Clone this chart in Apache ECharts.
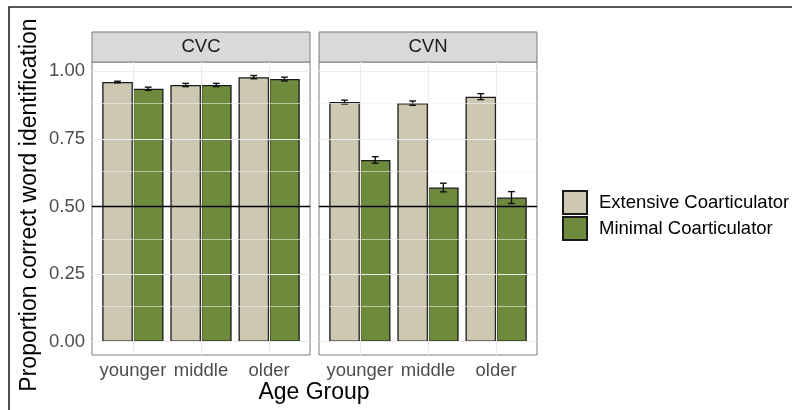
<!DOCTYPE html>
<html>
<head>
<meta charset="utf-8">
<script src="https://cdn.jsdelivr.net/npm/echarts@6/dist/echarts.min.js"></script>
<style>
  html, body { margin: 0; padding: 0; background: #fff; }
  #chart { width: 792px; height: 410px; }
</style>
</head>
<body>
<div id="chart"></div>
<script>
// data
const ageGroups = ['younger', 'middle', 'older'];
const panels = ['CVC', 'CVN'];
const cvcExtensive = [0.960, 0.949, 0.978];
const cvcExtensiveSE = [0.003, 0.006, 0.006];
const cvcMinimal = [0.935, 0.949, 0.971];
const cvcMinimalSE = [0.006, 0.006, 0.007];
const cvnExtensive = [0.886, 0.882, 0.906];
const cvnExtensiveSE = [0.007, 0.008, 0.011];
const cvnMinimal = [0.672, 0.570, 0.533];
const cvnMinimalSE = [0.012, 0.016, 0.022];
const yTicks = [0, 0.25, 0.5, 0.75, 1];
const yMinor = [0.125, 0.375, 0.625, 0.875];

const FONT = '"Liberation Sans", Arial, sans-serif';
const extColor = '#CDC8B1';
const minColor = '#6E8B3D';
const DODGE = 0.225;

const chart = echarts.init(document.getElementById('chart'), null, { renderer: 'canvas' });

// panel geometry
const panelTop = 62, panelH = 293, panelW = 218;
const panelLeft = [92, 319];

function barSeries(name, vals, off, grid, color) {
  return {
    name: name,
    type: 'bar',
    xAxisIndex: grid, yAxisIndex: grid,
    barWidth: 30.6,
    barGap: '-100%',
    itemStyle: { color: color, borderColor: '#1a1a1a', borderWidth: 1.3 },
    data: vals.map((v, i) => [i + off, v]),
    z: 2
  };
}

function errSeries(vals, se, off, grid) {
  return {
    name: 'err' + grid + off,
    type: 'custom',
    xAxisIndex: grid, yAxisIndex: grid,
    z: 4,
    data: vals.map((v, i) => [i + off, v - se[i], v + se[i]]),
    renderItem: function (params, api) {
      const x = api.value(0);
      const lo = api.coord([x, api.value(1)]);
      const hi = api.coord([x, api.value(2)]);
      const l = api.coord([x - 0.05, 0])[0];
      const r = api.coord([x + 0.05, 0])[0];
      const st = { stroke: '#111', lineWidth: 1.4 };
      return {
        type: 'group',
        children: [
          { type: 'line', shape: { x1: lo[0], y1: lo[1], x2: hi[0], y2: hi[1] }, style: st },
          { type: 'line', shape: { x1: l, y1: lo[1], x2: r, y2: lo[1] }, style: st },
          { type: 'line', shape: { x1: l, y1: hi[1], x2: r, y2: hi[1] }, style: st }
        ]
      };
    }
  };
}

function gridSeries(grid) {
  const d = [];
  yTicks.forEach(v => d.push({ yAxis: v }));
  yMinor.forEach(v => d.push({ yAxis: v, lineStyle: { width: 0.6, color: '#f0f0f0' } }));
  ageGroups.forEach((c, i) => d.push({ xAxis: i }));
  return {
    name: 'grid' + grid,
    type: 'line',
    xAxisIndex: grid, yAxisIndex: grid,
    data: [],
    z: 1,
    markLine: {
      silent: true, symbol: 'none', label: { show: false },
      lineStyle: { color: '#ebebeb', width: 1.1, type: 'solid' },
      data: d
    }
  };
}

function refSeries(grid) {
  return {
    name: 'ref' + grid,
    type: 'line',
    xAxisIndex: grid, yAxisIndex: grid,
    data: [],
    z: 5,
    markLine: {
      silent: true, symbol: 'none', label: { show: false },
      lineStyle: { color: '#000', width: 1.3, type: 'solid' },
      data: [{ yAxis: 0.5 }]
    }
  };
}

const xAxes = panelLeft.map((l, g) => ({
  type: 'value', gridIndex: g,
  min: -0.6, max: 2.6,
  axisLine: { show: false },
  splitLine: { show: false },
  axisTick: { show: true, length: 4, customValues: [0, 1, 2], lineStyle: { color: '#333', width: 1 } },
  axisLabel: {
    customValues: [0, 1, 2], margin: 6,
    formatter: v => ageGroups[Math.round(v)] || '',
    fontFamily: FONT, fontSize: 18.5, color: '#4d4d4d'
  }
}));

const yAxes = panelLeft.map((l, g) => ({
  type: 'value', gridIndex: g,
  min: -0.049, max: 1.034,
  axisLine: { show: false },
  splitLine: { show: false },
  axisTick: { show: g === 0, length: 4, customValues: yTicks, lineStyle: { color: '#333', width: 1 } },
  axisLabel: {
    show: g === 0, customValues: yTicks, margin: 7,
    formatter: v => v.toFixed(2),
    fontFamily: FONT, fontSize: 18.5, color: '#4d4d4d'
  }
}));

const graphics = [
  { type: 'rect', shape: { x: 9, y: 7, width: 800, height: 420 }, style: { fill: 'none', stroke: '#222', lineWidth: 1.6 }, z: 100 },
  {
    type: 'text', x: 30, y: 205, rotation: Math.PI / 2,
    style: { text: 'Proportion correct word identification', fontFamily: FONT, fontSize: 23, fill: '#000', align: 'center', verticalAlign: 'middle' }
  },
  {
    type: 'text', x: 314, y: 393,
    style: { text: 'Age Group', fontFamily: FONT, fontSize: 23, fill: '#000', align: 'center', verticalAlign: 'middle' }
  }
];
panelLeft.forEach((l, g) => {
  graphics.push({
    type: 'rect', shape: { x: l, y: 32, width: panelW, height: 30 },
    style: { fill: '#d9d9d9', stroke: '#7a7a7a', lineWidth: 1 }
  });
  graphics.push({
    type: 'text', x: l + panelW / 2, y: 47,
    style: { text: panels[g], fontFamily: FONT, fontSize: 18.5, fill: '#1a1a1a', align: 'center', verticalAlign: 'middle' }
  });
});

const option = {
  animation: false,
  backgroundColor: '#fff',
  grid: panelLeft.map(l => ({
    left: l, top: panelTop, width: panelW, height: panelH,
    show: true, borderColor: '#7a7a7a', borderWidth: 1, backgroundColor: 'transparent'
  })),
  xAxis: xAxes,
  yAxis: yAxes,
  legend: {
    orient: 'vertical', left: 557, top: 185,
    itemWidth: 24, itemHeight: 23, itemGap: 1,
    icon: 'rect',
    data: ['Extensive Coarticulator', 'Minimal Coarticulator'],
    textStyle: { fontFamily: FONT, fontSize: 18.5, color: '#000', padding: [0, 0, 0, 7] },
    selectedMode: false
  },
  graphic: graphics,
  series: [
    gridSeries(0), gridSeries(1),
    barSeries('Extensive Coarticulator', cvcExtensive, -DODGE, 0, extColor),
    barSeries('Minimal Coarticulator', cvcMinimal, DODGE, 0, minColor),
    barSeries('Extensive Coarticulator', cvnExtensive, -DODGE, 1, extColor),
    barSeries('Minimal Coarticulator', cvnMinimal, DODGE, 1, minColor),
    errSeries(cvcExtensive, cvcExtensiveSE, -DODGE, 0),
    errSeries(cvcMinimal, cvcMinimalSE, DODGE, 0),
    errSeries(cvnExtensive, cvnExtensiveSE, -DODGE, 1),
    errSeries(cvnMinimal, cvnMinimalSE, DODGE, 1),
    refSeries(0), refSeries(1)
  ]
};

chart.setOption(option);
</script>
</body>
</html>
